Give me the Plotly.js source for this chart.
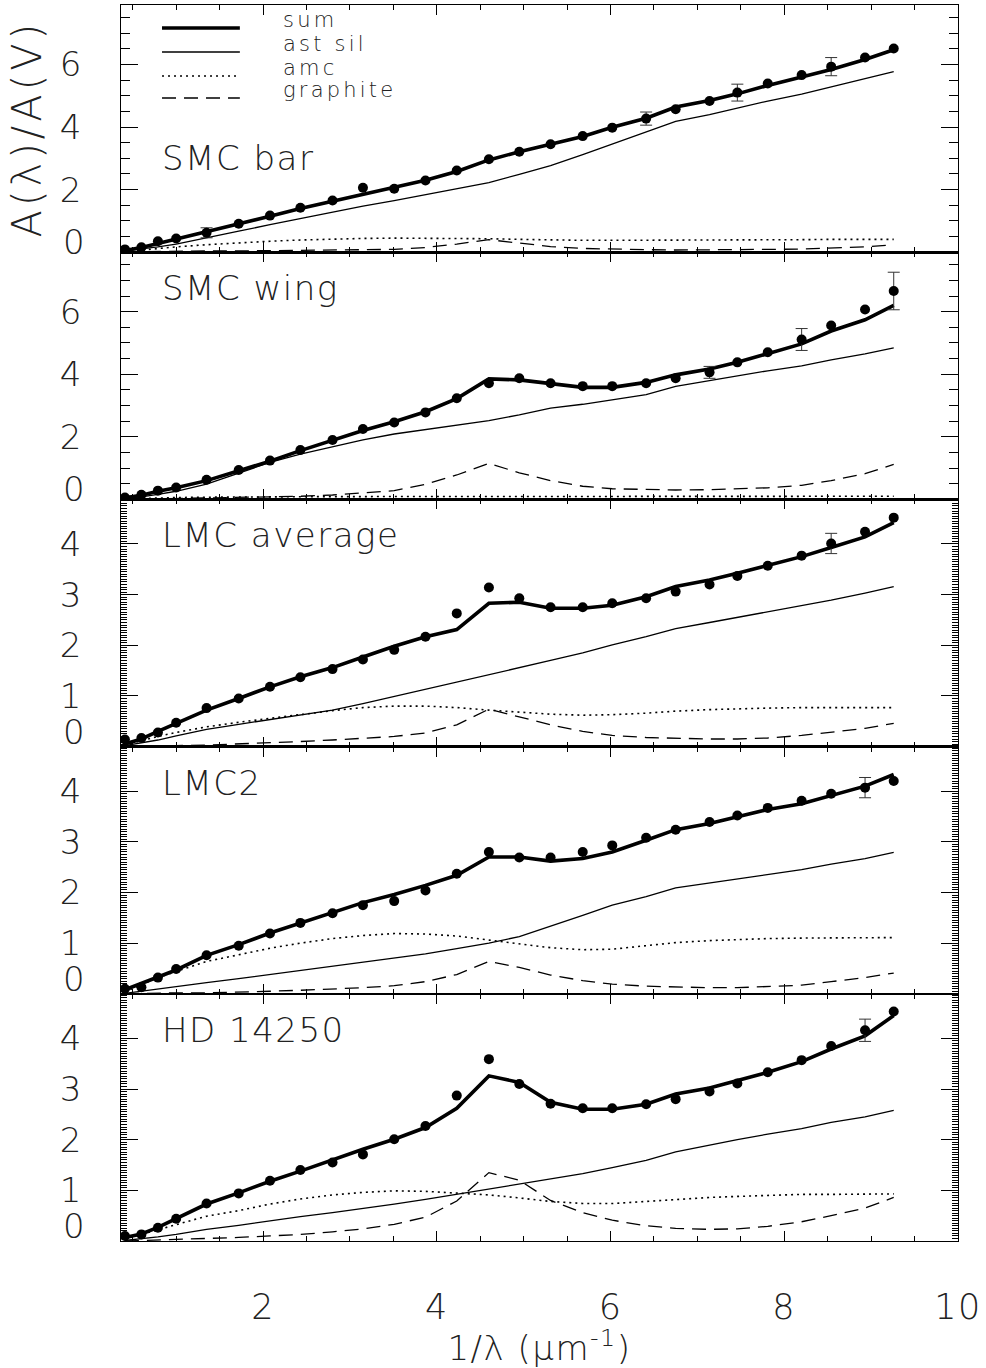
<!DOCTYPE html>
<html><head><meta charset="utf-8">
<script src="https://cdn.plot.ly/plotly-3.0.1.min.js"></script>
<style>
html,body{margin:0;padding:0;background:#fff}
svg text{letter-spacing:1.5px}
svg text.ytitle{letter-spacing:4px}
</style>
</head><body><div id="chart" style="width:986px;height:1368px"></div>
<script>
// ---- data ----
const xGrid = [0.41,0.60,0.79,1.00,1.35,1.72,2.08,2.43,2.80,3.15,3.51,3.87,4.23,4.60,4.95,5.31,5.68,6.02,6.41,6.75,7.14,7.46,7.81,8.20,8.54,8.93,9.26];
const panelNames = ['SMC bar','SMC wing','LMC average','LMC2','HD 14250'];
const legendLabels = ['sum','ast sil','amc','graphite'];
const xTickVals = [2,4,6,8,10];
const yTicksTall = [2,4,6];
const yTicksShort = [1,2,3,4];
const zeroLabel = '0';

const smcBarObs = [0.09,0.16,0.35,0.44,0.62,0.91,1.17,1.42,1.65,2.06,2.03,2.29,2.61,2.97,3.21,3.45,3.71,3.98,4.27,4.57,4.83,5.10,5.39,5.66,5.93,6.22,6.51];
const smcBarErr = [NaN,NaN,NaN,NaN,0.16,NaN,NaN,NaN,NaN,NaN,NaN,NaN,NaN,NaN,NaN,NaN,NaN,NaN,0.21,NaN,NaN,0.27,NaN,NaN,0.29,NaN,NaN];
const smcBarSum = [0.05,0.15,0.28,0.42,0.64,0.90,1.15,1.40,1.63,1.86,2.06,2.30,2.58,2.95,3.21,3.46,3.70,3.99,4.28,4.64,4.85,5.06,5.33,5.60,5.84,6.16,6.47];
const smcBarSil = [0.04,0.10,0.17,0.26,0.45,0.67,0.88,1.08,1.28,1.47,1.65,1.84,2.02,2.22,2.49,2.77,3.12,3.46,3.85,4.18,4.40,4.61,4.83,5.05,5.28,5.53,5.77];
const smcBarAmc = [0.02,0.07,0.12,0.17,0.24,0.30,0.35,0.39,0.42,0.44,0.45,0.45,0.44,0.43,0.41,0.39,0.38,0.38,0.38,0.39,0.39,0.40,0.40,0.40,0.41,0.41,0.41];
const smcBarGra = [0.01,0.02,0.03,0.03,0.04,0.04,0.05,0.05,0.06,0.07,0.09,0.15,0.26,0.40,0.28,0.18,0.12,0.09,0.08,0.07,0.07,0.08,0.09,0.10,0.13,0.17,0.24];

const smcWingObs = [0.06,0.15,0.28,0.38,0.63,0.94,1.24,1.58,1.90,2.25,2.46,2.78,3.23,3.71,3.87,3.71,3.62,3.62,3.71,3.87,4.06,4.38,4.70,5.11,5.56,6.07,6.66];
const smcWingErr = [NaN,NaN,NaN,NaN,NaN,NaN,NaN,NaN,NaN,NaN,NaN,NaN,NaN,NaN,NaN,NaN,NaN,NaN,NaN,NaN,0.19,NaN,NaN,0.35,NaN,NaN,0.60];
const smcWingSum = [0.05,0.13,0.26,0.37,0.60,0.92,1.22,1.56,1.88,2.20,2.48,2.80,3.22,3.85,3.82,3.69,3.58,3.58,3.74,3.98,4.17,4.38,4.67,4.97,5.38,5.74,6.20];
const smcWingSil = [0.03,0.08,0.16,0.26,0.49,0.84,1.18,1.45,1.69,1.90,2.09,2.23,2.36,2.52,2.70,2.92,3.04,3.18,3.35,3.61,3.80,3.96,4.11,4.27,4.46,4.65,4.84];
const smcWingAmc = [0.01,0.03,0.05,0.06,0.07,0.08,0.08,0.09,0.09,0.09,0.09,0.09,0.09,0.09,0.09,0.09,0.09,0.09,0.09,0.09,0.09,0.10,0.10,0.10,0.10,0.10,0.10];
const smcWingGra = [0.00,0.01,0.02,0.03,0.04,0.06,0.08,0.10,0.14,0.20,0.28,0.48,0.78,1.15,0.85,0.60,0.42,0.34,0.31,0.30,0.31,0.33,0.37,0.45,0.60,0.82,1.12];

const lmcAvgObs = [0.14,0.17,0.28,0.47,0.76,0.95,1.18,1.37,1.53,1.72,1.91,2.17,2.63,3.14,2.93,2.75,2.75,2.83,2.93,3.06,3.20,3.37,3.57,3.77,4.01,4.24,4.52];
const lmcAvgErr = [NaN,NaN,NaN,NaN,NaN,NaN,NaN,NaN,NaN,NaN,NaN,NaN,NaN,NaN,NaN,NaN,NaN,NaN,NaN,NaN,NaN,NaN,NaN,NaN,0.20,NaN,NaN];
const lmcAvgSum = [0.05,0.15,0.30,0.46,0.72,0.95,1.18,1.38,1.56,1.77,1.98,2.17,2.31,2.83,2.85,2.73,2.73,2.79,2.96,3.16,3.29,3.42,3.58,3.75,3.93,4.14,4.42];
const lmcAvgSil = [0.02,0.07,0.13,0.21,0.34,0.44,0.53,0.62,0.72,0.85,0.99,1.13,1.28,1.41,1.55,1.70,1.85,2.01,2.17,2.33,2.45,2.55,2.66,2.78,2.89,3.03,3.16];
const lmcAvgAmc = [0.03,0.12,0.20,0.28,0.39,0.48,0.56,0.64,0.71,0.77,0.80,0.80,0.77,0.72,0.68,0.64,0.62,0.63,0.66,0.70,0.73,0.75,0.76,0.77,0.77,0.77,0.77];
const lmcAvgGra = [0.00,0.01,0.01,0.02,0.03,0.05,0.08,0.10,0.13,0.16,0.20,0.27,0.43,0.74,0.58,0.43,0.30,0.22,0.18,0.16,0.15,0.15,0.17,0.22,0.28,0.36,0.46];

const lmc2Obs = [0.10,0.13,0.32,0.49,0.76,0.95,1.19,1.40,1.59,1.75,1.83,2.04,2.37,2.80,2.69,2.69,2.80,2.93,3.08,3.24,3.39,3.52,3.67,3.81,3.95,4.07,4.20];
const lmc2Err = [NaN,NaN,NaN,NaN,NaN,NaN,NaN,NaN,NaN,NaN,NaN,NaN,NaN,NaN,NaN,NaN,NaN,NaN,NaN,NaN,NaN,NaN,NaN,NaN,NaN,0.20,NaN];
const lmc2Sum = [0.08,0.20,0.33,0.47,0.76,0.97,1.20,1.40,1.60,1.80,1.96,2.14,2.34,2.70,2.70,2.62,2.67,2.80,3.03,3.24,3.36,3.50,3.64,3.75,3.92,4.10,4.33];
const lmc2Sil = [0.01,0.05,0.09,0.14,0.22,0.30,0.38,0.46,0.54,0.62,0.70,0.79,0.89,1.00,1.13,1.33,1.55,1.75,1.92,2.09,2.19,2.27,2.36,2.45,2.56,2.67,2.79];
const lmc2Amc = [0.04,0.18,0.32,0.44,0.64,0.77,0.90,1.00,1.09,1.15,1.19,1.18,1.14,1.06,0.98,0.91,0.87,0.88,0.95,1.01,1.05,1.07,1.09,1.10,1.10,1.11,1.11];
const lmc2Gra = [0.00,0.01,0.01,0.02,0.02,0.03,0.05,0.07,0.09,0.12,0.16,0.24,0.38,0.64,0.52,0.37,0.26,0.19,0.15,0.13,0.12,0.12,0.14,0.17,0.24,0.32,0.41];

const hdObs = [0.10,0.13,0.26,0.44,0.74,0.94,1.19,1.40,1.55,1.71,2.01,2.27,2.87,3.59,3.10,2.71,2.62,2.62,2.70,2.80,2.95,3.11,3.33,3.57,3.85,4.16,4.53];
const hdErr = [NaN,NaN,NaN,NaN,NaN,NaN,NaN,NaN,NaN,NaN,NaN,NaN,NaN,NaN,NaN,NaN,NaN,NaN,NaN,NaN,NaN,NaN,NaN,NaN,NaN,0.22,NaN];
const hdSum = [0.07,0.14,0.27,0.44,0.73,0.95,1.18,1.38,1.61,1.81,2.01,2.24,2.62,3.26,3.13,2.74,2.60,2.60,2.70,2.90,3.02,3.16,3.33,3.54,3.79,4.05,4.45];
const hdSil = [0.01,0.04,0.08,0.13,0.23,0.31,0.40,0.48,0.56,0.64,0.73,0.82,0.92,1.02,1.12,1.22,1.33,1.45,1.59,1.76,1.90,2.00,2.11,2.22,2.34,2.45,2.58];
const hdAmc = [0.04,0.13,0.23,0.32,0.49,0.60,0.73,0.83,0.91,0.96,0.99,0.98,0.95,0.91,0.85,0.78,0.74,0.74,0.78,0.82,0.86,0.88,0.90,0.92,0.92,0.93,0.93];
const hdGra = [0.00,0.01,0.02,0.03,0.04,0.07,0.10,0.13,0.18,0.24,0.33,0.47,0.79,1.35,1.20,0.80,0.56,0.41,0.30,0.25,0.23,0.24,0.29,0.38,0.50,0.65,0.86];

// ---- build ----
const panels = [
  {name:panelNames[0], obs:smcBarObs, err:smcBarErr, sum:smcBarSum, sil:smcBarSil, amc:smcBarAmc, gra:smcBarGra, ymax:7.9, ticks:yTicksTall, minor:0.5},
  {name:panelNames[1], obs:smcWingObs, err:smcWingErr, sum:smcWingSum, sil:smcWingSil, amc:smcWingAmc, gra:smcWingGra, ymax:7.9, ticks:yTicksTall, minor:0.5},
  {name:panelNames[2], obs:lmcAvgObs, err:lmcAvgErr, sum:lmcAvgSum, sil:lmcAvgSil, amc:lmcAvgAmc, gra:lmcAvgGra, ymax:4.88, ticks:yTicksShort, minor:0.05},
  {name:panelNames[3], obs:lmc2Obs, err:lmc2Err, sum:lmc2Sum, sil:lmc2Sil, amc:lmc2Amc, gra:lmc2Gra, ymax:4.88, ticks:yTicksShort, minor:0.05},
  {name:panelNames[4], obs:hdObs, err:hdErr, sum:hdSum, sil:hdSil, amc:hdAmc, gra:hdGra, ymax:4.88, ticks:yTicksShort, minor:0.05}
];

const FONT = "'DejaVu Sans', sans-serif";
const TXT = '#222';
const styles = {
  sum:{color:'#000', width:3.6, dash:'solid'},
  sil:{color:'#000', width:1.3, dash:'solid'},
  amc:{color:'#000', width:1.6, dash:'2px,4px'},
  gra:{color:'#000', width:1.3, dash:'14px,8px'}
};

const traces = [];
const layout = {
  width:986, height:1368,
  margin:{l:121, r:28, t:5, b:127},
  paper_bgcolor:'#fff', plot_bgcolor:'#fff',
  showlegend:false,
  font:{family:FONT, weight:200, color:TXT, size:34},
  annotations:[], shapes:[]
};

const n = panels.length;
panels.forEach((p, i) => {
  const k = i === 0 ? '' : String(i + 1);
  const xa = 'x' + k, ya = 'y' + k;
  ['amc','gra','sil','sum'].forEach(key => {
    traces.push({type:'scatter', mode:'lines', x:xGrid, y:p[key], xaxis:xa, yaxis:ya,
      line:{color:styles[key].color, width:styles[key].width, dash:styles[key].dash},
      hoverinfo:'skip', name:key});
  });
  traces.push({type:'scatter', mode:'markers', x:xGrid, y:p.obs, xaxis:xa, yaxis:ya,
    marker:{color:'#000', size:10, symbol:'circle'},
    error_y:{type:'data', array:p.err, visible:true, color:'#333', thickness:1, width:6},
    name:'observed'});

  const top = 1 - i / n, bot = 1 - (i + 1) / n;
  const isBottom = i === n - 1;
  layout['xaxis' + k] = {
    domain:[0,1], anchor:ya, range:[0.365,10],
    tickmode:'array', tickvals:xTickVals, ticktext:xTickVals.map(String),
    ticks:'inside', ticklen:10, tickwidth:1, tickcolor:'#000',
    minor:{dtick:0.5, tick0:0, ticks:'inside', ticklen:5, tickwidth:1, tickcolor:'#000', showgrid:false},
    showline:true, linecolor:'#000', linewidth:1.3, mirror:'ticks',
    showgrid:false, zeroline:false,
    showticklabels:isBottom,
    tickfont:{family:FONT, weight:200, size:35, color:TXT},
    ticklabelstandoff:35
  };
  if (isBottom) {
    layout['xaxis' + k].title = {text:'1/λ (μm<sup>-1</sup>)', font:{family:FONT, weight:200, size:34, color:TXT}, standoff:24};
  }
  layout['yaxis' + k] = {
    domain:[bot, top], anchor:xa, range:[0, p.ymax],
    tickmode:'array', tickvals:p.ticks, ticktext:p.ticks.map(String),
    ticks:'inside', ticklen:17, tickwidth:1, tickcolor:'#000',
    minor:{dtick:p.minor, tick0:0, ticks:'inside', ticklen:p.minor < 0.1 ? 6 : 9, tickwidth:1, tickcolor:'#000', showgrid:false},
    showline:true, linecolor:'#000', linewidth:1.3, mirror:'ticks',
    showgrid:false, zeroline:false,
    tickfont:{family:FONT, weight:200, size:34, color:TXT},
    ticklabelstandoff:30
  };
  if (i === 0) {
    layout['yaxis' + k].title = {text:'A(λ)/A(V)', font:{family:FONT, weight:200, size:40, color:TXT}, standoff:5};
  }
  // zero label (drawn slightly raised, as in the reference)
  layout.annotations.push({text:zeroLabel, xref:'paper', x:-0.039, xanchor:'right', yref:ya, y:0, yanchor:'middle',
    yshift: p.ymax > 6 ? 10 : 15, showarrow:false, font:{family:FONT, weight:200, size:34, color:TXT}});
  // panel name
  layout.annotations.push({text:p.name, xref:'paper', x:0.046, xanchor:'left',
    yref:ya + ' domain', y: i === 0 ? 0.381 : 0.854, yanchor:'middle', showarrow:false,
    font:{family:FONT, weight:200, size:34, color:TXT}});
});

// legend (top panel)
const legKeys = ['sum','sil','amc','gra'];
const legY = [28, 52, 76, 98];
legKeys.forEach((key, j) => {
  const yp = 1 - (legY[j] - 5) / 1236;
  layout.shapes.push({type:'line', xref:'paper', yref:'paper', x0:0.049, x1:0.142, y0:yp, y1:yp,
    line:{color:styles[key].color, width:styles[key].width, dash:styles[key].dash}});
  layout.annotations.push({text:'<span style="letter-spacing:3.2px">' + legendLabels[j] + '</span>',
    xref:'paper', yref:'paper', x:0.192, xanchor:'left',
    y:yp, yanchor:'middle', yshift:8, showarrow:false, borderpad:0,
    font:{family:FONT, weight:200, size:21, color:TXT}});
});

Plotly.newPlot('chart', traces, layout, {displayModeBar:false, staticPlot:true});
</script></body></html>
